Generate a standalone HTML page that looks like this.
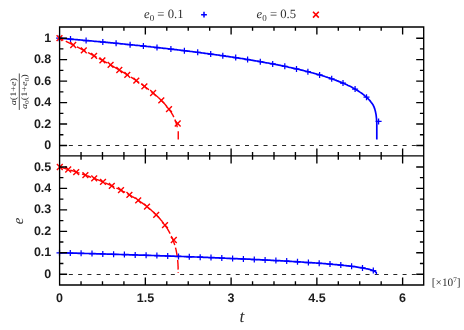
<!DOCTYPE html>
<html><head><meta charset="utf-8"><title>chart</title>
<style>html,body{margin:0;padding:0;background:#fff;}svg{display:block;}text{filter:grayscale(1);}text{text-rendering:geometricPrecision;}</style></head>
<body>
<svg width="464" height="330" viewBox="0 0 464 330">
<rect width="464" height="330" fill="#fff"/>
<g>
<path d="M59.6 145.5H423.7M59.6 274.5H423.7" stroke="#000" stroke-width="0.85" stroke-dasharray="4 5.27" fill="none"/>
<path d="M59.6 38.2L60.9 38.3L62.1 38.4L63.4 38.5L64.6 38.6L65.9 38.7L67.1 38.8L68.4 38.9L69.6 39.1L70.9 39.2L72.1 39.3L73.4 39.4L74.7 39.5L75.9 39.6L77.2 39.7L78.4 39.8L79.7 39.9L80.9 40.0L82.2 40.1L83.4 40.3L84.7 40.4L85.9 40.5L87.2 40.6L88.5 40.7L89.7 40.8L91.0 40.9L92.2 41.0L93.5 41.2L94.7 41.3L96.0 41.4L97.2 41.5L98.5 41.6L99.7 41.7L101.0 41.9L102.3 42.0L103.5 42.1L104.8 42.2L106.0 42.3L107.3 42.4L108.5 42.6L109.8 42.7L111.0 42.8L112.3 42.9L113.5 43.0L114.8 43.2L116.0 43.3L117.3 43.4L118.6 43.5L119.8 43.6L121.1 43.8L122.3 43.9L123.6 44.0L124.8 44.1L126.1 44.3L127.3 44.4L128.6 44.5L129.8 44.6L131.1 44.8L132.4 44.9L133.6 45.0L134.9 45.2L136.1 45.3L137.4 45.4L138.6 45.5L139.9 45.7L141.1 45.8L142.4 45.9L143.6 46.1L144.9 46.2L146.2 46.3L147.4 46.5L148.7 46.6L149.9 46.7L151.2 46.9L152.4 47.0L153.7 47.1L154.9 47.3L156.2 47.4L157.4 47.6L158.7 47.7L160.0 47.8L161.2 48.0L162.5 48.1L163.7 48.3L165.0 48.4L166.2 48.5L167.5 48.7L168.7 48.8L170.0 49.0L171.2 49.1L172.5 49.3L173.8 49.4L175.0 49.6L176.3 49.7L177.5 49.8L178.8 50.0L180.0 50.1L181.3 50.3L182.5 50.4L183.8 50.6L185.0 50.8L186.3 50.9L187.6 51.1L188.8 51.2L190.1 51.4L191.3 51.5L192.6 51.7L193.8 51.8L195.1 52.0L196.3 52.2L197.6 52.3L198.8 52.5L200.1 52.6L201.4 52.8L202.6 53.0L203.9 53.1L205.1 53.3L206.4 53.5L207.6 53.6L208.9 53.8L210.1 54.0L211.4 54.1L212.6 54.3L213.9 54.5L215.2 54.7L216.4 54.8L217.7 55.0L218.9 55.2L220.2 55.4L221.4 55.5L222.7 55.7L223.9 55.9L225.2 56.1L226.4 56.3L227.7 56.4L228.9 56.6L230.2 56.8L231.5 57.0L232.7 57.2L234.0 57.4L235.2 57.6L236.5 57.8L237.7 57.9L239.0 58.1L240.2 58.3L241.5 58.5L242.7 58.7L244.0 58.9L245.3 59.1L246.5 59.3L247.8 59.5L249.0 59.7L250.3 59.9L251.5 60.2L252.8 60.4L254.0 60.6L255.3 60.8L256.5 61.0L257.8 61.2L259.1 61.4L260.3 61.7L261.6 61.9L262.8 62.1L264.1 62.3L265.3 62.6L266.6 62.8L267.8 63.0L269.1 63.2L270.3 63.5L271.6 63.7L272.9 64.0L274.1 64.2L275.4 64.4L276.6 64.7L277.9 64.9L279.1 65.2L280.4 65.4L281.6 65.7L282.9 65.9L284.1 66.2L285.4 66.5L286.7 66.7L287.9 67.0L289.2 67.3L290.4 67.5L291.7 67.8L292.9 68.1L294.2 68.4L295.4 68.7L296.7 68.9L297.9 69.2L299.2 69.5L300.5 69.8L301.7 70.1L303.0 70.4L304.2 70.7L305.5 71.1L306.7 71.4L308.0 71.7L309.2 72.0L310.5 72.4L311.7 72.7L313.0 73.0L314.3 73.4L315.5 73.7L316.8 74.1L318.0 74.4L319.3 74.8L320.5 75.2L321.8 75.5L323.0 75.9L324.3 76.3L325.5 76.7L326.8 77.1L328.0 77.5L329.3 77.9L330.6 78.4L331.8 78.8L333.1 79.2L334.3 79.7L335.6 80.1L336.8 80.6L338.1 81.1L339.3 81.6L340.6 82.1L341.8 82.6L343.1 83.1L344.4 83.7L345.6 84.2L346.9 84.8L348.1 85.4L349.4 86.0L350.6 86.6L351.9 87.3L353.1 88.0L354.4 88.6L355.4 89.2L356.5 89.9L357.5 90.5L358.6 91.2L359.6 91.9L360.7 92.6L361.7 93.3L362.8 94.1L363.8 94.9L364.8 95.8L365.9 96.7L366.9 97.6L368.0 98.7L368.8 99.5L369.7 100.4L370.5 101.4L371.3 102.5L372.2 103.6L373.0 104.8L374.0 106.9L374.8 109.1L375.5 111.8L376.1 114.9L376.5 118.5L376.8 122.7L376.8 127.0L376.8 139.5" stroke="#0000ff" stroke-width="1.7" fill="none" stroke-linejoin="round"/>
<path d="M178.25 131.3V139.6" stroke="#ff0000" stroke-width="1.4" fill="none"/>
<path d="M59.6 38.2L60.7 38.7L61.8 39.3L63.4 40.1L64.9 40.8L66.5 41.6L68.1 42.4L69.6 43.2L71.1 43.9L72.6 44.7L74.1 45.5L75.6 46.2L77.1 46.9L78.5 47.7L80.0 48.4L81.4 49.1L82.8 49.9L84.2 50.6L85.5 51.3L86.9 52.0L88.2 52.7L89.6 53.4L90.9 54.1L92.2 54.8L93.5 55.5L94.7 56.2L96.0 56.8L97.2 57.5L98.5 58.2L99.7 58.8L100.9 59.5L102.1 60.1L103.2 60.8L104.4 61.4L105.5 62.1L106.7 62.7L107.8 63.3L108.9 63.9L110.0 64.6L111.1 65.2L112.1 65.8L113.2 66.4L114.2 67.0L115.6 67.8L117.0 68.6L118.3 69.4L119.6 70.1L120.9 70.9L122.1 71.7L123.3 72.4L124.6 73.1L125.7 73.9L126.9 74.6L128.1 75.3L129.2 76.0L130.3 76.7L131.4 77.4L132.5 78.1L133.5 78.8L134.6 79.5L135.6 80.2L136.8 81.0L138.0 81.8L139.2 82.6L140.3 83.4L141.5 84.2L142.6 85.0L143.6 85.8L144.7 86.5L145.7 87.3L146.7 88.0L147.7 88.7L148.8 89.6L149.9 90.4L150.9 91.3L152.0 92.1L152.9 92.9L153.9 93.7L154.8 94.5L155.9 95.4L156.9 96.3L157.8 97.1L158.8 98.0L159.7 98.8L160.6 99.7L161.6 100.7L162.4 101.5L163.3 102.4L164.2 103.4L165.0 104.3L165.8 105.2L166.7 106.2L167.5 107.2L168.3 108.2L169.0 109.2L169.8 110.3L170.5 111.3L171.2 112.4L171.8 113.4L172.5 114.5L173.1 115.6L173.6 116.7L174.2 117.8L174.7 119.0L175.2 120.2L175.6 121.3L176.0 122.5L176.4 123.7L176.7 124.8L177.0 126.0L177.2 127.2L177.2 127.3" stroke="#ff0000" stroke-width="1.4" fill="none" stroke-dasharray="9.8 2.6" stroke-dashoffset="5.5" stroke-linejoin="round"/>
<path d="M59.6 252.8L62.1 252.8L64.5 252.9L66.9 252.9L69.3 253.0L71.7 253.1L74.1 253.1L76.5 253.2L78.8 253.3L81.1 253.3L83.4 253.4L85.7 253.5L88.0 253.5L90.2 253.6L92.5 253.7L94.7 253.7L96.9 253.8L99.1 253.8L101.2 253.9L103.4 254.0L105.5 254.0L107.6 254.1L109.7 254.2L111.8 254.2L113.9 254.3L115.9 254.3L118.0 254.4L120.0 254.5L122.0 254.5L124.0 254.6L125.9 254.6L127.9 254.7L129.8 254.8L131.8 254.8L133.7 254.9L135.6 254.9L137.5 255.0L139.3 255.1L141.2 255.1L143.0 255.2L144.9 255.2L146.7 255.3L148.5 255.4L150.3 255.4L152.0 255.5L153.8 255.5L155.5 255.6L157.3 255.6L159.0 255.7L160.7 255.8L162.4 255.8L164.1 255.9L165.7 255.9L167.4 256.0L169.0 256.0L170.7 256.1L172.3 256.2L173.9 256.2L175.5 256.3L177.0 256.3L178.6 256.4L180.2 256.4L181.7 256.5L183.2 256.5L184.7 256.6L186.3 256.6L187.8 256.7L189.2 256.8L190.7 256.8L192.2 256.9L193.6 256.9L195.1 257.0L196.5 257.0L197.9 257.1L199.3 257.1L200.7 257.2L202.1 257.2L203.4 257.3L204.8 257.3L206.2 257.4L207.5 257.4L208.8 257.5L210.2 257.6L211.5 257.6L212.8 257.7L214.0 257.7L215.3 257.8L216.6 257.8L217.9 257.9L219.1 257.9L220.3 258.0L221.6 258.0L222.8 258.1L224.0 258.1L225.2 258.2L227.6 258.3L229.9 258.4L232.2 258.5L234.5 258.6L236.7 258.7L238.9 258.8L241.1 258.8L243.2 258.9L245.3 259.0L247.4 259.1L249.4 259.2L251.4 259.3L253.4 259.4L255.3 259.5L257.2 259.6L259.1 259.7L261.0 259.8L262.8 259.9L264.6 260.0L266.3 260.0L268.1 260.1L269.8 260.2L271.5 260.3L273.1 260.4L274.8 260.5L276.4 260.6L277.9 260.7L279.5 260.7L281.0 260.8L282.5 260.9L284.0 261.0L285.5 261.1L286.9 261.2L288.3 261.2L289.7 261.3L291.1 261.4L292.5 261.5L293.8 261.6L295.1 261.6L296.4 261.7L297.6 261.8L298.9 261.9L300.1 261.9L301.3 262.0L303.1 262.1L304.8 262.3L306.5 262.4L308.2 262.5L309.8 262.6L311.4 262.7L312.9 262.8L314.4 262.9L315.9 263.0L317.3 263.1L318.7 263.2L320.1 263.3L321.5 263.4L322.8 263.5L324.0 263.6L325.3 263.7L326.5 263.8L328.1 264.0L329.6 264.1L331.1 264.2L332.5 264.3L333.9 264.5L335.3 264.6L336.6 264.7L337.8 264.8L339.0 264.9L340.5 265.1L341.9 265.2L343.3 265.4L344.6 265.5L345.9 265.6L347.1 265.8L348.5 265.9L349.8 266.1L351.0 266.2L352.2 266.4L353.6 266.6L354.8 266.7L356.0 266.9L357.3 267.1L358.5 267.3L359.8 267.5L361.1 267.7L362.3 267.9L363.5 268.1L364.7 268.3L365.9 268.6L367.1 268.8L368.3 269.1L369.5 269.4L370.7 269.7L371.9 270.1L373.0 270.5L374.1 271.0L375.2 271.6L376.1 272.4L376.6 273.5L376.7 273.6L377.0 273.6" stroke="#0000ff" stroke-width="1.7" fill="none" stroke-linejoin="round"/>
<path d="M59.6 166.9L61.2 167.4L62.8 167.9L64.4 168.4L66.0 168.8L67.6 169.3L69.1 169.8L70.6 170.3L72.1 170.7L73.6 171.2L75.1 171.7L76.6 172.2L78.0 172.7L79.5 173.1L80.9 173.6L82.3 174.1L83.7 174.6L85.1 175.1L86.4 175.6L87.8 176.0L89.1 176.5L90.4 177.0L91.8 177.5L93.0 178.0L94.3 178.5L95.6 178.9L96.8 179.4L98.1 179.9L99.3 180.4L100.5 180.9L101.7 181.4L102.9 181.9L104.0 182.4L105.2 182.8L106.3 183.3L107.4 183.8L108.5 184.3L109.6 184.8L111.1 185.4L112.5 186.1L113.9 186.7L115.3 187.4L116.6 188.1L117.9 188.7L119.3 189.4L120.5 190.0L121.8 190.6L123.0 191.3L124.3 191.9L125.5 192.6L126.6 193.2L127.8 193.9L128.9 194.5L130.0 195.2L131.1 195.8L132.2 196.5L133.3 197.1L134.3 197.7L135.3 198.4L136.6 199.2L137.8 200.0L139.0 200.8L140.1 201.6L141.2 202.3L142.4 203.1L143.4 203.9L144.5 204.7L145.5 205.5L146.5 206.2L147.5 207.0L148.4 207.8L149.5 208.7L150.6 209.6L151.6 210.5L152.6 211.4L153.6 212.3L154.5 213.2L155.4 214.1L156.3 214.9L157.2 215.8L158.1 216.8L159.0 217.8L159.9 218.8L160.7 219.8L161.6 220.7L162.3 221.7L163.1 222.6L163.9 223.7L164.7 224.7L165.4 225.8L166.1 226.8L166.8 227.8L167.5 228.9L168.1 230.0L168.8 231.1L169.3 232.2L170.0 233.3L170.5 234.4L171.1 235.6L171.6 236.7L172.2 237.9L172.6 239.0L173.1 240.2L173.5 241.4L173.9 242.5L174.3 243.7L174.7 244.9L175.1 246.1L175.4 247.3L175.7 248.5L176.0 249.7L176.3 251.0L176.5 252.1L176.7 253.3L176.9 254.5L177.1 255.7L177.3 257.0L177.4 258.1L177.6 259.3L177.7 260.6L177.8 261.8L177.9 263.0L178.0 264.2L178.0 265.4L178.1 266.6L178.1 267.8L178.2 273.0" stroke="#ff0000" stroke-width="1.4" fill="none" stroke-dasharray="9.8 2.6" stroke-dashoffset="1.3" stroke-linejoin="round"/>
<path d="M201.1 14.7h5.8M204.0 11.8v5.8" stroke="#0000ff" stroke-width="1.5" fill="none"/>
<path d="M56.1 38.2h6.0M59.1 35.2v6.0M67.5 39.1h6.0M70.5 36.1v6.0M83.1 40.5h6.0M86.1 37.5v6.0M99.8 42.0h6.0M102.8 39.0v6.0M113.1 43.3h6.0M116.1 40.3v6.0M127.1 44.7h6.0M130.1 41.7v6.0M140.4 46.0h6.0M143.4 43.0v6.0M154.0 47.5h6.0M157.0 44.5v6.0M167.9 49.1h6.0M170.9 46.1v6.0M181.4 50.7h6.0M184.4 47.7v6.0M194.7 52.3h6.0M197.7 49.3v6.0M207.7 54.0h6.0M210.7 51.0v6.0M219.8 55.7h6.0M222.8 52.7v6.0M232.7 57.6h6.0M235.7 54.6v6.0M244.6 59.5h6.0M247.6 56.5v6.0M257.3 61.7h6.0M260.3 58.7v6.0M269.7 63.9h6.0M272.7 60.9v6.0M281.8 66.3h6.0M284.8 63.3v6.0M293.5 68.9h6.0M296.5 65.9v6.0M304.9 71.7h6.0M307.9 68.7v6.0M316.6 74.9h6.0M319.6 71.9v6.0M328.7 78.8h6.0M331.7 75.8v6.0M340.0 83.1h6.0M343.0 80.1v6.0M352.1 89.1h6.0M355.1 86.1v6.0M363.5 97.2h6.0M366.5 94.2v6.0M375.6 121.4h6.0M378.6 118.4v6.0M56.5 252.8h6.0M59.5 249.8v6.0M67.3 253.0h6.0M70.3 250.0v6.0M78.1 253.3h6.0M81.1 250.3v6.0M89.0 253.6h6.0M92.0 250.6v6.0M99.8 253.9h6.0M102.8 250.9v6.0M110.6 254.3h6.0M113.6 251.3v6.0M121.4 254.6h6.0M124.4 251.6v6.0M132.2 254.9h6.0M135.2 251.9v6.0M143.1 255.3h6.0M146.1 252.3v6.0M153.9 255.6h6.0M156.9 252.6v6.0M164.7 256.0h6.0M167.7 253.0v6.0M175.5 256.4h6.0M178.5 253.4v6.0M186.3 256.8h6.0M189.3 253.8v6.0M197.2 257.2h6.0M200.2 254.2v6.0M208.0 257.6h6.0M211.0 254.6v6.0M218.8 258.0h6.0M221.8 255.0v6.0M229.6 258.5h6.0M232.6 255.5v6.0M240.4 259.0h6.0M243.4 256.0v6.0M251.3 259.5h6.0M254.3 256.5v6.0M262.1 260.0h6.0M265.1 257.0v6.0M272.9 260.5h6.0M275.9 257.5v6.0M283.7 261.1h6.0M286.7 258.1v6.0M294.5 261.8h6.0M297.5 258.8v6.0M305.4 262.5h6.0M308.4 259.5v6.0M316.2 263.3h6.0M319.2 260.3v6.0M327.0 264.1h6.0M330.0 261.1v6.0M337.8 265.1h6.0M340.8 262.1v6.0M348.6 266.3h6.0M351.6 263.3v6.0M359.5 267.9h6.0M362.5 264.9v6.0M370.3 270.6h6.0M373.3 267.6v6.0" stroke="#0000ff" stroke-width="1.25" fill="none"/>
<path d="M313.0 11.8l5.8 5.8M313.0 17.6l5.8 -5.8" stroke="#ff0000" stroke-width="1.6" fill="none"/>
<path d="M56.6 35.3l5.8 5.8M56.6 41.1l5.8 -5.8M70.3 42.1l5.8 5.8M70.3 47.9l5.8 -5.8M80.9 47.5l5.8 5.8M80.9 53.3l5.8 -5.8M91.2 52.9l5.8 5.8M91.2 58.7l5.8 -5.8M99.5 57.4l5.8 5.8M99.5 63.2l5.8 -5.8M107.7 62.0l5.8 5.8M107.7 67.8l5.8 -5.8M116.4 67.1l5.8 5.8M116.4 72.9l5.8 -5.8M124.4 71.9l5.8 5.8M124.4 77.7l5.8 -5.8M133.4 77.8l5.8 5.8M133.4 83.6l5.8 -5.8M141.5 83.4l5.8 5.8M141.5 89.2l5.8 -5.8M150.2 90.1l5.8 5.8M150.2 95.9l5.8 -5.8M158.4 97.5l5.8 5.8M158.4 103.3l5.8 -5.8M166.1 106.3l5.8 5.8M166.1 112.1l5.8 -5.8M174.8 120.6l5.8 5.8M174.8 126.4l5.8 -5.8M56.9 164.1l5.8 5.8M56.9 169.9l5.8 -5.8M65.3 166.6l5.8 5.8M65.3 172.4l5.8 -5.8M73.3 169.2l5.8 5.8M73.3 175.0l5.8 -5.8M82.5 172.3l5.8 5.8M82.5 178.1l5.8 -5.8M91.3 175.5l5.8 5.8M91.3 181.3l5.8 -5.8M100.1 179.0l5.8 5.8M100.1 184.8l5.8 -5.8M108.9 182.9l5.8 5.8M108.9 188.7l5.8 -5.8M118.1 187.3l5.8 5.8M118.1 193.1l5.8 -5.8M126.5 191.9l5.8 5.8M126.5 197.7l5.8 -5.8M135.3 197.4l5.8 5.8M135.3 203.2l5.8 -5.8M144.1 203.7l5.8 5.8M144.1 209.5l5.8 -5.8M153.3 211.9l5.8 5.8M153.3 217.7l5.8 -5.8M162.1 222.3l5.8 5.8M162.1 228.1l5.8 -5.8M170.9 237.1l5.8 5.8M170.9 242.9l5.8 -5.8" stroke="#ff0000" stroke-width="1.4" fill="none"/>
<path d="M59.6 27.0H423.7V285.0H59.6ZM59.6 155.9H423.7M81.04 27.0v3.8M81.04 152.1v7.6M81.04 285.0v-3.8M102.48 27.0v3.8M102.48 152.1v7.6M102.48 285.0v-3.8M123.92 27.0v3.8M123.92 152.1v7.6M123.92 285.0v-3.8M145.35 27.0v7.5M145.35 148.4v15.0M145.35 285.0v-7.5M166.79 27.0v3.8M166.79 152.1v7.6M166.79 285.0v-3.8M188.23 27.0v3.8M188.23 152.1v7.6M188.23 285.0v-3.8M209.67 27.0v3.8M209.67 152.1v7.6M209.67 285.0v-3.8M231.11 27.0v7.5M231.11 148.4v15.0M231.11 285.0v-7.5M252.55 27.0v3.8M252.55 152.1v7.6M252.55 285.0v-3.8M273.99 27.0v3.8M273.99 152.1v7.6M273.99 285.0v-3.8M295.43 27.0v3.8M295.43 152.1v7.6M295.43 285.0v-3.8M316.87 27.0v7.5M316.87 148.4v15.0M316.87 285.0v-7.5M338.30 27.0v3.8M338.30 152.1v7.6M338.30 285.0v-3.8M359.74 27.0v3.8M359.74 152.1v7.6M359.74 285.0v-3.8M381.18 27.0v3.8M381.18 152.1v7.6M381.18 285.0v-3.8M402.62 27.0v7.5M402.62 148.4v15.0M402.62 285.0v-7.5M59.6 145.50h7.5M423.7 145.50h-7.5M59.6 134.77h3.8M423.7 134.77h-3.8M59.6 124.04h7.5M423.7 124.04h-7.5M59.6 113.31h3.8M423.7 113.31h-3.8M59.6 102.58h7.5M423.7 102.58h-7.5M59.6 91.85h3.8M423.7 91.85h-3.8M59.6 81.12h7.5M423.7 81.12h-7.5M59.6 70.39h3.8M423.7 70.39h-3.8M59.6 59.66h7.5M423.7 59.66h-7.5M59.6 48.93h3.8M423.7 48.93h-3.8M59.6 38.20h7.5M423.7 38.20h-7.5M59.6 274.20h7.5M423.7 274.20h-7.5M59.6 263.47h3.8M423.7 263.47h-3.8M59.6 252.75h7.5M423.7 252.75h-7.5M59.6 242.02h3.8M423.7 242.02h-3.8M59.6 231.30h7.5M423.7 231.30h-7.5M59.6 220.57h3.8M423.7 220.57h-3.8M59.6 209.85h7.5M423.7 209.85h-7.5M59.6 199.12h3.8M423.7 199.12h-3.8M59.6 188.40h7.5M423.7 188.40h-7.5M59.6 177.67h3.8M423.7 177.67h-3.8M59.6 166.95h7.5M423.7 166.95h-7.5" stroke="#000" stroke-width="1.35" fill="none"/>
<g font-family="Liberation Sans, sans-serif" font-weight="bold" font-size="12.5" fill="#1c1c1c" text-anchor="end"><text x="51.3" y="41.8">1</text><text x="51.3" y="63.3">0.8</text><text x="51.3" y="84.7">0.6</text><text x="51.3" y="106.2">0.4</text><text x="51.3" y="127.6">0.2</text><text x="51.3" y="149.1">0</text><text x="51.3" y="170.5">0.5</text><text x="51.3" y="192.0">0.4</text><text x="51.3" y="213.4">0.3</text><text x="51.3" y="234.9">0.2</text><text x="51.3" y="256.4">0.1</text><text x="51.3" y="277.8">0</text></g>
<g font-family="Liberation Sans, sans-serif" font-weight="bold" font-size="12.5" fill="#1c1c1c" text-anchor="middle"><text x="59.6" y="301.6">0</text><text x="145.4" y="301.6">1.5</text><text x="231.1" y="301.6">3</text><text x="316.9" y="301.6">4.5</text><text x="402.6" y="301.6">6</text></g>
<text x="144" y="18.4" font-family="Liberation Serif, serif" fill="#303030" font-size="12.7"><tspan font-style="italic">e</tspan><tspan font-size="9" dy="2.2">0</tspan><tspan dy="-2.2"> = 0.1</tspan></text>
<text x="256.6" y="18.4" font-family="Liberation Serif, serif" fill="#303030" font-size="12.7"><tspan font-style="italic">e</tspan><tspan font-size="9" dy="2.2">0</tspan><tspan dy="-2.2"> = 0.5</tspan></text>
<text x="242.0" y="321.6" text-anchor="middle" font-family="Liberation Serif, serif" fill="#303030" font-size="17.5" font-style="italic">t</text>
<text x="431.8" y="285.8" font-family="Liberation Serif, serif" fill="#303030" font-size="11.3">[×10<tspan font-size="7.2" dy="-3.4">7</tspan><tspan dy="3.4">]</tspan></text>
<text transform="translate(23.4,221) rotate(-90)" text-anchor="middle" font-family="Liberation Serif, serif" fill="#303030" font-size="14.8" font-style="italic">e</text>
<g transform="translate(19.3,91.7) rotate(-90) scale(1.2,1)" font-family="Liberation Serif, serif" fill="#303030" font-size="8.5" text-anchor="middle"><text x="0" y="-3"><tspan font-style="italic">a</tspan>(1+<tspan font-style="italic">e</tspan>)</text><path d="M-15.2 0H15.2" stroke="#2a2a2a" stroke-width="0.75"/><text x="0" y="8.1"><tspan font-style="italic">a</tspan><tspan font-size="6.2" dy="1.5">0</tspan><tspan dy="-1.5">(1+</tspan><tspan font-style="italic">e</tspan><tspan font-size="6.2" dy="1.5">0</tspan><tspan dy="-1.5">)</tspan></text></g>
</g></svg>
</body></html>
